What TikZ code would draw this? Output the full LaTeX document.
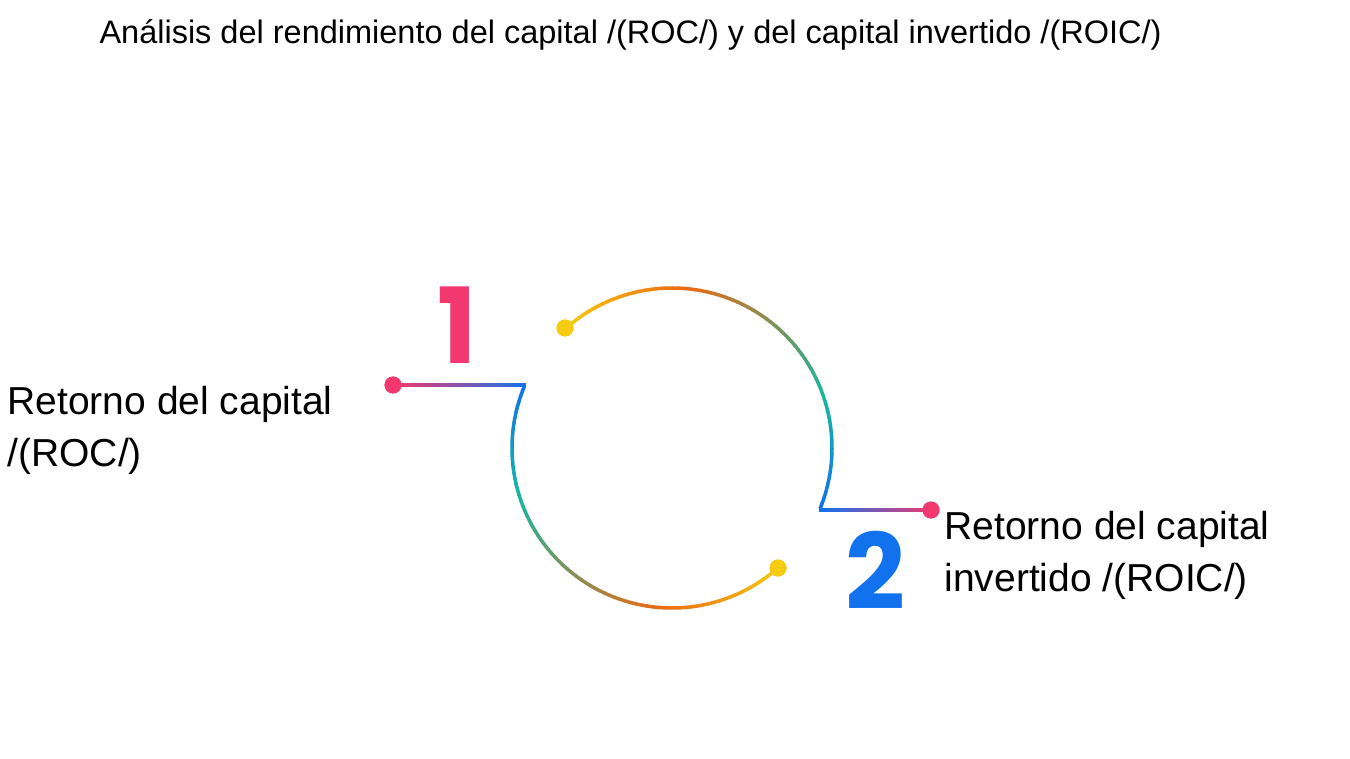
\documentclass[tikz,border=0pt]{standalone}
\usepackage{fontspec}
\setmainfont{Liberation Sans}
\newfontfamily\numfont{Poppins}
\usetikzlibrary{calc}
\definecolor{pinkish}{HTML}{F2386F}
\definecolor{bluish}{HTML}{1272EE}
\definecolor{goldy}{HTML}{F7CC10}
\definecolor{orangy}{HTML}{EE6A12}
\definecolor{tealy}{HTML}{14B8A0}
\tikzset{%
    dot/.style={circle, fill=#1, inner sep=0pt, minimum size=17pt},
    lbl/.style={anchor=north west, align=left, font=\fontsize{39}{52}\selectfont},
    seg/.style={line width=3.5pt},
}
\begin{document}
\begin{tikzpicture}[x=1pt,y=-1pt]
	\useasboundingbox (0,0) rectangle (1350,759);
	\node[anchor=west, font=\fontsize{32.5}{36}\selectfont] (title) at (96,35) {Análisis del rendimiento del capital /(ROC/) y del capital invertido /(ROIC/)};

	\node[dot=pinkish] (p1) at (393,385) {};
	\node[dot=pinkish] (p2) at (931,510) {};
	\node[dot=goldy] (y1) at (565,328) {};
	\node[dot=goldy] (y2) at (778,568) {};
	\coordinate (c1) at (525,385);
	\coordinate (c2) at (819,510);

	% upper arc: yellow -> orange -> teal -> blue
	\foreach \a in {132,130,...,-20} {
		\pgfmathsetmacro{\t}{(132-\a)/152*100}
		\ifdim\t pt<30pt
			\pgfmathsetmacro{\m}{\t/30*100}
			\colorlet{cc}{orangy!\m!goldy}
		\else\ifdim\t pt<75pt
			\pgfmathsetmacro{\m}{(\t-30)/45*100}
			\colorlet{cc}{tealy!\m!orangy}
		\else
			\pgfmathsetmacro{\m}{(\t-75)/25*100}
			\colorlet{cc}{bluish!\m!tealy}
		\fi\fi
		\draw[seg, cc] ($(672,448)+(-\a:160)$) arc[start angle=-\a, end angle=-\a+2.3, radius=160];
	}
	% lower arc: blue -> teal -> orange -> yellow
	\foreach \a in {157,159,...,311} {
		\pgfmathsetmacro{\t}{(\a-157)/154*100}
		\ifdim\t pt<25pt
			\pgfmathsetmacro{\m}{\t/25*100}
			\colorlet{cc}{tealy!\m!bluish}
		\else\ifdim\t pt<70pt
			\pgfmathsetmacro{\m}{(\t-25)/45*100}
			\colorlet{cc}{orangy!\m!tealy}
		\else
			\pgfmathsetmacro{\m}{(\t-70)/30*100}
			\colorlet{cc}{goldy!\m!orangy}
		\fi\fi
		\draw[seg, cc] ($(672,448)+(-\a:160)$) arc[start angle=-\a, end angle=-\a-2.3, radius=160];
	}
	% straight leads
	\foreach \i in {0,5,...,95} {
		\draw[seg, bluish!\i!pinkish] ($(p1)!\i/100!(c1)$) -- ($(p1)!\i/100+0.06!(c1)$);
		\draw[seg, pinkish!\i!bluish] ($(c2)!\i/100!(p2)$) -- ($(c2)!\i/100+0.06!(p2)$);
	}
	\node[dot=pinkish] at (p1) {};
	\node[dot=pinkish] at (p2) {};
	\node[dot=goldy] at (y1) {};
	\node[dot=goldy] at (y2) {};

	\node[font=\numfont\bfseries\fontsize{105}{105}\selectfont, text=pinkish] (n1) at (457,325) {1};
	\node[font=\numfont\bfseries\fontsize{105}{105}\selectfont, text=bluish] (n2) at (875,570) {2};

	\node[lbl] (roc) at (4,383) {Retorno del capital\\/(ROC/)};
	\node[lbl] (roic) at (941,508) {Retorno del capital\\invertido /(ROIC/)};
\end{tikzpicture}
\end{document}
